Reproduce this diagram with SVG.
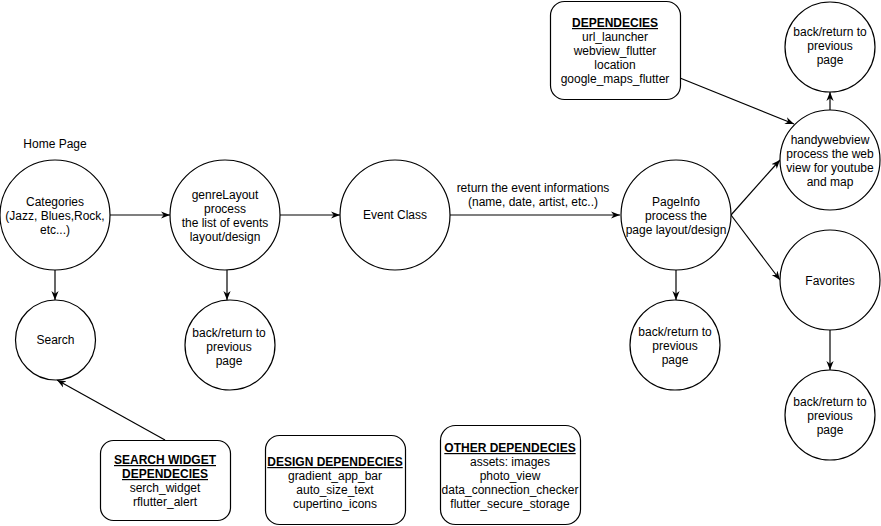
<svg xmlns="http://www.w3.org/2000/svg" width="881" height="526" viewBox="0 0 881 526">
<style>
  .n { fill: #ffffff; stroke: #000000; stroke-width: 1.2; }
  .t { font-family: "Liberation Sans", Arial, Helvetica, sans-serif; font-size: 12px; fill: #000000; text-anchor: middle; }
  .h { font-weight: bold; text-decoration: underline; }
  .e { fill: none; stroke: #000000; stroke-width: 1.2; marker-end: url(#arr); }
</style>
<defs>
  <marker id="arr" viewBox="0 0 10 10" refX="10" refY="5" markerWidth="9" markerHeight="9" markerUnits="userSpaceOnUse" orient="auto">
    <path d="M0,1 L10,5 L0,9 L3,5 z" fill="#000000"/>
  </marker>
</defs>
<rect width="881" height="526" fill="#ffffff"/>

<g id="connectors">
  <line class="e" x1="110" y1="215" x2="170" y2="215"/>
  <line class="e" x1="280" y1="215" x2="340" y2="215"/>
  <line class="e" x1="450" y1="215" x2="620" y2="215"/>
  <line class="e" x1="55" y1="270" x2="55" y2="300"/>
  <line class="e" x1="227" y1="270" x2="227" y2="300"/>
  <line class="e" x1="676" y1="270" x2="676" y2="300"/>
  <line class="e" x1="731" y1="215" x2="780" y2="160"/>
  <line class="e" x1="731" y1="215" x2="780" y2="280"/>
  <line class="e" x1="830" y1="110" x2="830" y2="92"/>
  <line class="e" x1="830" y1="330" x2="830" y2="370"/>
  <line class="e" x1="680" y1="78" x2="794" y2="124"/>
  <line class="e" x1="165" y1="440" x2="57" y2="380"/>
  <text class="t" x="533" y="192">return the event informations</text>
  <text class="t" x="533" y="206">(name, date, artist, etc..)</text>
</g>

<g id="home-label">
  <text class="t" x="55" y="148">Home Page</text>
</g>

<g id="categories">
  <circle class="n" cx="55" cy="215" r="55"/>
  <text class="t" x="55" y="206">Categories</text>
  <text class="t" x="55" y="220">(Jazz, Blues,Rock,</text>
  <text class="t" x="55" y="234">etc...)</text>
</g>

<g id="search">
  <circle class="n" cx="55.5" cy="340" r="40"/>
  <text class="t" x="55.5" y="344">Search</text>
</g>

<g id="genreLayout">
  <circle class="n" cx="225" cy="215" r="55"/>
  <text class="t" x="225" y="199">genreLayout</text>
  <text class="t" x="225" y="213">process</text>
  <text class="t" x="225" y="227">the list of events</text>
  <text class="t" x="225" y="241">layout/design</text>
</g>

<g id="back-genre">
  <circle class="n" cx="230" cy="345" r="45"/>
  <text class="t" x="229" y="337">back/return to</text>
  <text class="t" x="229" y="351">previous</text>
  <text class="t" x="229" y="365">page</text>
</g>

<g id="event-class">
  <circle class="n" cx="395" cy="215" r="55"/>
  <text class="t" x="395" y="219">Event Class</text>
</g>

<g id="pageinfo">
  <circle class="n" cx="676" cy="215" r="55"/>
  <text class="t" x="676" y="206">PageInfo</text>
  <text class="t" x="676" y="220">process the</text>
  <text class="t" x="676" y="234">page layout/design</text>
</g>

<g id="back-pageinfo">
  <circle class="n" cx="675" cy="345" r="45"/>
  <text class="t" x="675" y="336">back/return to</text>
  <text class="t" x="675" y="350">previous</text>
  <text class="t" x="675" y="364">page</text>
</g>

<g id="handywebview">
  <circle class="n" cx="830" cy="160" r="50"/>
  <text class="t" x="830" y="144">handywebview</text>
  <text class="t" x="830" y="158">process the web</text>
  <text class="t" x="830" y="172">view for youtube</text>
  <text class="t" x="830" y="186">and map</text>
</g>

<g id="back-top">
  <circle class="n" cx="830" cy="47" r="45"/>
  <text class="t" x="830" y="36">back/return to</text>
  <text class="t" x="830" y="50">previous</text>
  <text class="t" x="830" y="64">page</text>
</g>

<g id="favorites">
  <circle class="n" cx="830" cy="280" r="50"/>
  <text class="t" x="830" y="285">Favorites</text>
</g>

<g id="back-favorites">
  <circle class="n" cx="830" cy="415" r="45"/>
  <text class="t" x="830" y="406">back/return to</text>
  <text class="t" x="830" y="420">previous</text>
  <text class="t" x="830" y="434">page</text>
</g>

<g id="dependecies">
  <rect class="n" x="550.5" y="1.5" width="130" height="98" rx="14"/>
  <text class="t h" x="615" y="27">DEPENDECIES</text>
  <text class="t" x="615" y="41">url_launcher</text>
  <text class="t" x="615" y="55">webview_flutter</text>
  <text class="t" x="615" y="69">location</text>
  <text class="t" x="615" y="83">google_maps_flutter</text>
</g>

<g id="search-widget-deps">
  <rect class="n" x="100.5" y="440.5" width="130" height="80" rx="13"/>
  <text class="t h" x="165" y="464">SEARCH WIDGET</text>
  <text class="t h" x="165" y="478">DEPENDECIES</text>
  <text class="t" x="165" y="492">serch_widget</text>
  <text class="t" x="165" y="506">rflutter_alert</text>
</g>

<g id="design-deps">
  <rect class="n" x="265.5" y="435.5" width="140" height="89" rx="14"/>
  <text class="t h" x="335" y="466">DESIGN DEPENDECIES</text>
  <text class="t" x="335" y="480">gradient_app_bar</text>
  <text class="t" x="335" y="494">auto_size_text</text>
  <text class="t" x="335" y="508">cupertino_icons</text>
</g>

<g id="other-deps">
  <rect class="n" x="440.5" y="425.5" width="140" height="99" rx="15"/>
  <text class="t h" x="510" y="452">OTHER DEPENDECIES</text>
  <text class="t" x="510" y="466">assets: images</text>
  <text class="t" x="510" y="480">photo_view</text>
  <text class="t" x="510" y="494">data_connection_checker</text>
  <text class="t" x="510" y="508">flutter_secure_storage</text>
</g>
</svg>
